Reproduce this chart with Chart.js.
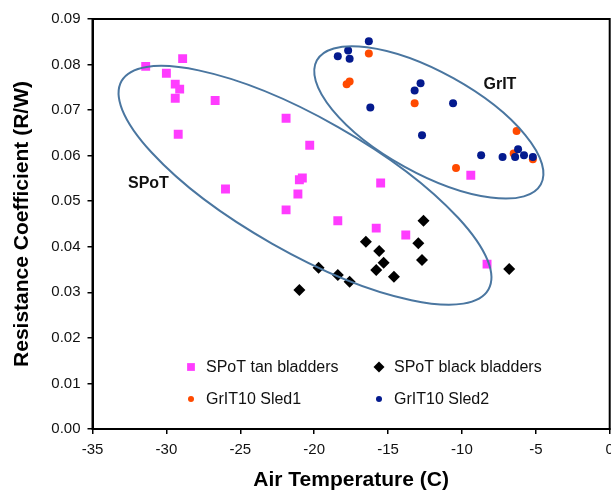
<!DOCTYPE html>
<html>
<head>
<meta charset="utf-8">
<script src="https://cdn.jsdelivr.net/npm/chart.js@4/dist/chart.umd.min.js"></script>
<style>
  html, body { margin: 0; padding: 0; background: #fff; overflow: hidden; width: 611px; height: 493px; }
</style>
</head>
<body>
<canvas id="chart" width="616" height="493"></canvas>
<script>
// SPoT tan bladders
const tanTemp = [-31.4, -28.9, -30.0, -29.4, -29.1, -29.4, -26.7, -29.2, -21.9, -20.3, -20.8, -21.0, -21.1, -26.0, -21.9, -15.5, -18.4, -15.8, -13.8, -9.4, -8.3]
const tanR = [0.0796, 0.0813, 0.0781, 0.0757, 0.0746, 0.0726, 0.0721, 0.0647, 0.0682, 0.0623, 0.0551, 0.0547, 0.0516, 0.0527, 0.0481, 0.0540, 0.0457, 0.0441, 0.0426, 0.0557, 0.0362]

// SPoT black bladders
const blackTemp = [-21.0, -19.7, -18.4, -17.6, -16.5, -15.6, -15.3, -15.8, -14.6, -12.95, -12.7, -12.6, -6.8]
const blackR = [0.0305, 0.0354, 0.0338, 0.0323, 0.0411, 0.0391, 0.0365, 0.0349, 0.0334, 0.0408, 0.0371, 0.0457, 0.0351]

// GrIT10 Sled1
const sled1Temp = [-16.3, -17.8, -17.6, -13.2, -6.3, -10.4, -6.5, -5.2]
const sled1R = [0.0824, 0.0757, 0.0763, 0.0715, 0.0654, 0.0573, 0.0605, 0.0592]

// GrIT10 Sled2
const sled2Temp = [-16.3, -18.4, -17.7, -17.6, -12.8, -13.2, -10.6, -16.2, -12.7, -8.7, -7.25, -6.2, -6.4, -5.8, -5.2]
const sled2R = [0.0851, 0.0818, 0.0831, 0.0813, 0.0759, 0.0743, 0.0715, 0.0706, 0.0645, 0.0601, 0.0597, 0.0614, 0.0597, 0.0601, 0.0597]

const seriesNames = ['SPoT tan bladders', 'SPoT black bladders', 'GrIT10 Sled1', 'GrIT10 Sled2']
const xRange = [-35, 0]
const yRange = [0, 0.09]

// group outlines (centre in data units, radii in px, tilt in degrees)
const groups = [
  { label: 'SPoT', cx: -20.62, cy: 0.0535, rx: 211, ry: 67, tilt: 29.6, tx: -32.6, ty: 0.0538 },
  { label: 'GrIT', cx: -12.24, cy: 0.0673, rx: 128, ry: 50.5, tilt: 29, tx: -8.54, ty: 0.0757 }
]

const zip = (xs, ys) => xs.map((x, i) => ({ x: x, y: ys[i] }))
const FONT = "'Liberation Sans', Arial, sans-serif"

const frame = {
  id: 'frame',
  afterDraw(chart) {
    const { ctx, chartArea: a } = chart
    ctx.save()
    ctx.strokeStyle = '#000'
    ctx.lineWidth = 2
    ctx.strokeRect(a.left, a.top, a.right - a.left, a.bottom - a.top)
    ctx.restore()
  }
}

const outlines = {
  id: 'outlines',
  afterDatasetsDraw(chart) {
    const { ctx, scales: { x, y } } = chart
    ctx.save()
    groups.forEach(g => {
      ctx.beginPath()
      ctx.ellipse(x.getPixelForValue(g.cx), y.getPixelForValue(g.cy), g.rx, g.ry, g.tilt * Math.PI / 180, 0, Math.PI * 2)
      ctx.strokeStyle = '#4a76a0'
      ctx.lineWidth = 2
      ctx.stroke()
      ctx.fillStyle = '#111'
      ctx.font = 'bold 16px ' + FONT
      ctx.textBaseline = 'middle'
      ctx.fillText(g.label, x.getPixelForValue(g.tx), y.getPixelForValue(g.ty))
    })
    ctx.restore()
  }
}

// legend inside the plot, two columns
const innerLegend = {
  id: 'innerLegend',
  afterDraw(chart) {
    const { ctx } = chart
    const cols = [191, 379]
    const rows = [367, 399]
    const sizes = [5.5, 5.5, 3, 3]
    ctx.save()
    chart.data.datasets.forEach((ds, i) => {
      const px = cols[i % 2]
      const py = rows[Math.floor(i / 2)]
      ctx.fillStyle = ds.backgroundColor
      ctx.strokeStyle = ds.backgroundColor
      Chart.helpers.drawPoint(ctx, { pointStyle: ds.pointStyle, radius: sizes[i], borderWidth: 0, rotation: 0 }, px, py)
      ctx.fillStyle = '#111'
      ctx.font = '16px ' + FONT
      ctx.textBaseline = 'middle'
      ctx.fillText(ds.label, px + 15, py + 1)
    })
    ctx.restore()
  }
}

new Chart(document.getElementById('chart'), {
  type: 'scatter',
  data: {
    datasets: [
      { label: seriesNames[0], data: zip(tanTemp, tanR), pointStyle: 'rect', pointRadius: 6.3, backgroundColor: '#ff3cff', borderWidth: 0, order: 3 },
      { label: seriesNames[1], data: zip(blackTemp, blackR), pointStyle: 'rectRot', pointRadius: 6, backgroundColor: '#000000', borderWidth: 0, order: 2 },
      { label: seriesNames[2], data: zip(sled1Temp, sled1R), pointStyle: 'circle', pointRadius: 4, backgroundColor: '#ff4a00', borderWidth: 0, order: 1 },
      { label: seriesNames[3], data: zip(sled2Temp, sled2R), pointStyle: 'circle', pointRadius: 4, backgroundColor: '#041a8e', borderWidth: 0, order: 0 }
    ]
  },
  options: {
    responsive: false,
    animation: false,
    layout: { padding: { top: 19, right: 0, bottom: 0, left: 0 } },
    plugins: {
      legend: { display: false },
      tooltip: { enabled: false }
    },
    scales: {
      x: {
        type: 'linear',
        min: xRange[0],
        max: xRange[1],
        ticks: { stepSize: 5, color: '#111', padding: 7, font: { family: FONT, size: 15 } },
        grid: { display: true, drawOnChartArea: false, drawTicks: true, tickLength: 5, color: '#000', lineWidth: 1.5 },
        border: { display: true, color: '#000', width: 2 },
        title: { display: true, text: 'Air Temperature (C)', color: '#000', padding: { top: 0, bottom: 0 }, font: { family: FONT, size: 21, weight: 'bold' } },
        afterFit(scale) {
          scale.height = 64
          scale.paddingLeft = 0
          scale.paddingRight = 1.5
        }
      },
      y: {
        min: yRange[0],
        max: yRange[1],
        ticks: {
          stepSize: 0.01,
          color: '#111',
          padding: 7,
          font: { family: FONT, size: 15 },
          callback: function(value) {
            return value.toFixed(2)
          }
        },
        grid: { display: true, drawOnChartArea: false, drawTicks: true, tickLength: 5, color: '#000', lineWidth: 1.5 },
        border: { display: true, color: '#000', width: 2 },
        title: { display: true, text: 'Resistance Coefficient (R/W)', color: '#000', padding: { top: 10, bottom: 0 }, font: { family: FONT, size: 21, weight: 'bold' } },
        afterFit(scale) {
          scale.width = 92.5
          scale.paddingTop = 0
          scale.paddingBottom = 0
        }
      }
    }
  },
  plugins: [outlines, frame, innerLegend]
})
</script>
</body>
</html>
